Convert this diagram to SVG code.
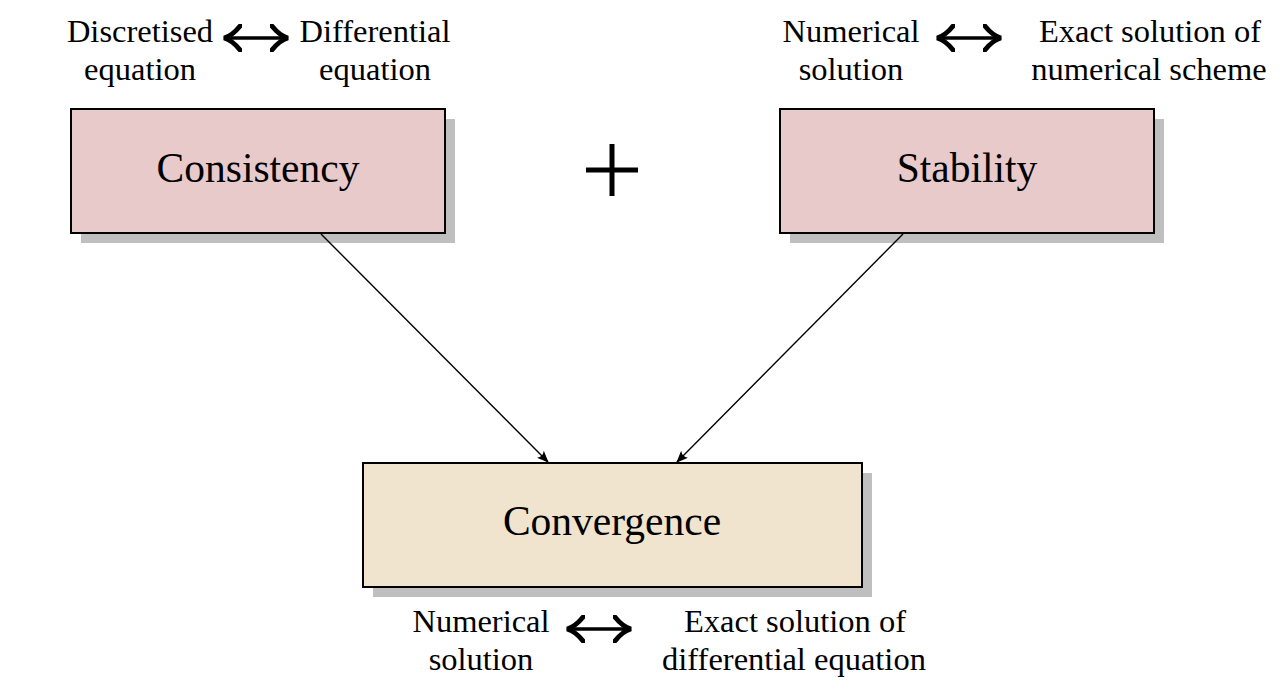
<svg xmlns="http://www.w3.org/2000/svg" width="1287" height="698" viewBox="0 0 1287 698">
<style>
.lbl{font-family:"Liberation Serif","DejaVu Serif",serif;font-size:32.5px;fill:#000;text-anchor:middle}
.big{font-family:"Liberation Serif","DejaVu Serif",serif;font-size:41.5px;fill:#000;text-anchor:middle}
.shadow{fill:#bfbfbf}
.box{stroke:#000;stroke-width:2}
.pink{fill:#e8cacb}
.tan{fill:#f0e4ce}
.conn{stroke:#000;stroke-width:1.4;fill:none}
.dbl{stroke:#000;stroke-width:3.4;fill:none}
</style>
<defs>
<marker id="ah" viewBox="0 0 12 10" refX="11" refY="5" markerWidth="12" markerHeight="10" markerUnits="userSpaceOnUse" orient="auto">
<path d="M0,0 Q4,5 0,10 L12,5 Z" fill="#000"/>
</marker>
<marker id="dh" viewBox="0 0 10 14" refX="9" refY="7" markerWidth="6" markerHeight="8.4" orient="auto-start-reverse">
<path d="M1,1 Q5,6 9,7 Q5,8 1,13" fill="none" stroke="#000" stroke-width="2.4" stroke-linecap="round"/>
</marker>
</defs>
<g id="consistency">
<rect class="shadow" x="81" y="119" width="374" height="124"/>
<rect class="box pink" x="71" y="109" width="374" height="124"/>
<text class="big" x="258" y="182">Consistency</text>
</g>
<g id="stability">
<rect class="shadow" x="790" y="119" width="374" height="124"/>
<rect class="box pink" x="780" y="109" width="374" height="124"/>
<text class="big" x="967" y="182">Stability</text>
</g>
<g id="convergence">
<rect class="shadow" x="373" y="473" width="499" height="124"/>
<rect class="box tan" x="363" y="463" width="499" height="124"/>
<text class="big" x="612" y="535">Convergence</text>
</g>
<g id="plus">
<path d="M586,170 H638 M612,144 V196" stroke="#000" stroke-width="5" fill="none"/>
</g>
<g id="label-consistency">
<text class="lbl" x="140" y="42">Discretised</text>
<text class="lbl" x="140" y="80">equation</text>
<text class="lbl" x="375" y="42">Differential</text>
<text class="lbl" x="375" y="80">equation</text>
<path class="dbl" d="M224,38 H288" marker-start="url(#dh)" marker-end="url(#dh)"/>
</g>
<g id="label-stability">
<text class="lbl" x="851" y="42">Numerical</text>
<text class="lbl" x="851" y="80">solution</text>
<text class="lbl" x="1150" y="42">Exact solution of</text>
<text class="lbl" x="1149" y="80">numerical scheme</text>
<path class="dbl" d="M937,38 H1001" marker-start="url(#dh)" marker-end="url(#dh)"/>
</g>
<g id="label-convergence">
<text class="lbl" x="481" y="632">Numerical</text>
<text class="lbl" x="481" y="670">solution</text>
<text class="lbl" x="795" y="632">Exact solution of</text>
<text class="lbl" x="794" y="670">differential equation</text>
<path class="dbl" d="M567,629 H631" marker-start="url(#dh)" marker-end="url(#dh)"/>
</g>
<g id="connectors">
<path class="conn" d="M321,234 L548,462" marker-end="url(#ah)"/>
<path class="conn" d="M903,234 L677,462" marker-end="url(#ah)"/>
</g>
</svg>
